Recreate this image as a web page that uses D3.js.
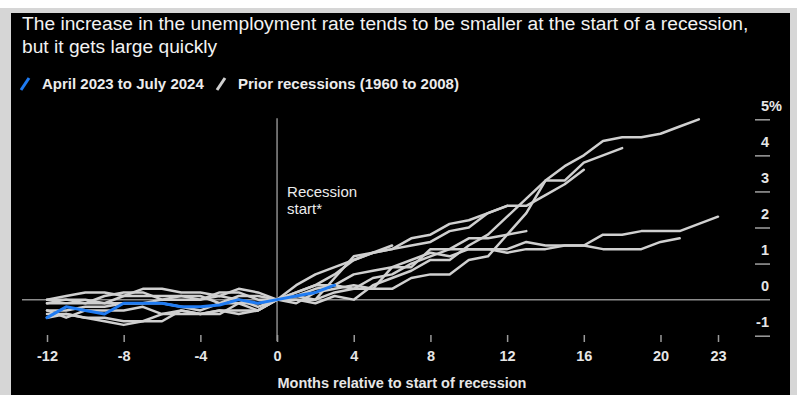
<!DOCTYPE html>
<html>
<head>
<meta charset="utf-8">
<script src="https://cdn.jsdelivr.net/npm/d3@7"></script>
<style>
  body { margin: 0; background: #ffffff; }
  svg { display: block; font-family: 'Liberation Sans', Arial, sans-serif; }
</style>
</head>
<body>
<div id="container"></div>
<script>
// months relative to recession start, first value of every series is month -12
var startMonth = -12
var xTicks = [-12, -8, -4, 0, 4, 8, 12, 16, 20, 23]
var yTicks = [-1, 0, 1, 2, 3, 4, 5]

// change in unemployment rate (pp) vs. the start month
var current = [-0.5, -0.2, -0.3, -0.4, -0.1, -0.1, -0.1, -0.2, -0.2, -0.15, 0, -0.1, 0, 0.1, 0.2, 0.4]

var r1960 = [0.0, 0.1, 0.2, 0.2, 0.1, 0.3, 0.3, 0.2, 0.2, 0.1, 0.3, 0.2,
             0, -0.1, 0.2, 0.3, 0.4, 0.3, 0.9, 0.9, 1.4, 1.4, 1.7, 1.7, 1.8, 1.9]
var r1969 = [-0.1, -0.1, -0.1, -0.1, -0.1, -0.1, 0, 0, 0, 0.2, 0.2, 0,
             0, 0.4, 0.7, 0.9, 1.1, 1.3, 1.4, 1.5, 1.6, 1.9, 2.0, 2.4, 2.6]
var r1973 = [-0.1, 0.0, 0.0, -0.1, 0.1, 0.1, 0.1, 0.1, 0.0, 0.1, 0.0, -0.2,
             0, 0.1, 0.3, 0.4, 0.3, 0.3, 0.3, 0.6, 0.7, 0.7, 1.1, 1.2, 1.8, 2.4, 3.3, 3.3, 3.8, 4.0, 4.2]
var r1980 = [-0.4, -0.4, -0.5, -0.5, -0.6, -0.6, -0.6, -0.3, -0.4, -0.3, -0.4, -0.3,
             0, 0, 0, 0.6, 1.2, 1.3, 1.5]
var r1981 = [0.0, 0.0, -0.1, 0.1, 0.2, 0.2, 0.0, 0.1, 0.1, -0.1, 0.1, 0.1,
             0, 0.2, 0.4, 0.7, 1.1, 1.3, 1.4, 1.7, 1.8, 2.1, 2.2, 2.4, 2.6, 2.6, 2.9, 3.2, 3.6]
var r1990 = [-0.3, -0.3, -0.2, -0.2, -0.1, -0.1, -0.1, -0.2, -0.3, -0.1, -0.1, -0.3,
             0, 0.2, 0.4, 0.4, 0.7, 0.8, 0.9, 1.1, 1.3, 1.2, 1.4, 1.4, 1.3, 1.4, 1.4, 1.5, 1.5, 1.8, 1.8, 1.9, 1.9, 1.9, 2.1, 2.3]
var r2001 = [-0.3, -0.5, -0.3, -0.3, -0.3, -0.2, -0.4, -0.4, -0.4, -0.4, -0.1, -0.1,
             0, 0.1, 0, 0.2, 0.3, 0.6, 0.7, 1.0, 1.2, 1.4, 1.4, 1.4, 1.4, 1.6, 1.5, 1.5, 1.5, 1.4, 1.4, 1.4, 1.6, 1.7]
var r2008 = [-0.5, -0.4, -0.5, -0.6, -0.7, -0.6, -0.4, -0.3, -0.4, -0.3, -0.3, -0.3,
             0, 0, -0.1, 0.1, 0, 0.4, 0.6, 0.8, 1.1, 1.1, 1.5, 1.8, 2.3, 2.8, 3.3, 3.7, 4.0, 4.4, 4.5, 4.5, 4.6, 4.8, 5.0]

var priorRecessions = [r1960, r1969, r1973, r1980, r1981, r1990, r2001, r2008]

var titleLines = [
    'The increase in the unemployment rate tends to be smaller at the start of a recession,',
    'but it gets large quickly'
]
var legendLabels = ['April 2023 to July 2024', 'Prior recessions (1960 to 2008)']

var width = 797
var height = 395
var blue = '#1f7bf2'
var grey = '#d0d0d0'

var svgContainer = d3.select('#container').append('svg')
    .attr('width', width)
    .attr('height', height)

// frame
svgContainer.append('rect').attr('x', 0).attr('y', 8).attr('width', width).attr('height', height - 8).attr('fill', '#d6d6d6')
svgContainer.append('rect').attr('x', 11).attr('y', 13).attr('width', 779).attr('height', height - 13).attr('fill', '#000000')

var x = d3.scaleLinear().domain([-12, 23]).range([47, 718])
var y = d3.scaleLinear().domain([-1, 5]).range([335.7, 119.3])

function toPoints(values){
    var pts = []
    for(var i = 0; i < values.length; i++){
        pts.push([startMonth + i, values[i]])
    }
    return pts
}

var line = d3.line()
    .x(function(d){ return x(d[0]) })
    .y(function(d){ return y(d[1]) })

// title
svgContainer.selectAll('text.title')
    .data(titleLines)
    .enter()
    .append('text')
    .attr('class', 'title')
    .attr('x', 22)
    .attr('y', function(d, i){ return 30 + i * 23 })
    .attr('font-size', 19.2)
    .attr('fill', '#f2f2f2')
    .text(function(d){ return d })

// legend
function drawLegendItem(lx, color, label){
    svgContainer.append('line')
        .attr('x1', lx).attr('y1', 90)
        .attr('x2', lx + 8).attr('y2', 78)
        .attr('stroke', color)
        .attr('stroke-width', 3)
    svgContainer.append('text')
        .attr('x', lx + 21)
        .attr('y', 89)
        .attr('font-size', 15)
        .attr('font-weight', 'bold')
        .attr('fill', '#ececec')
        .text(label)
}
drawLegendItem(21, blue, legendLabels[0])
drawLegendItem(217, grey, legendLabels[1])

// y axis on the right: short dashes with labels above
var yAxis = d3.axisRight(y)
    .tickValues(yTicks)
    .tickSize(0)
    .tickFormat(function(d){ return d })

var yAxisG = svgContainer.append('g')
    .attr('transform', 'translate(769,0)')
    .call(yAxis)
yAxisG.select('.domain').remove()
yAxisG.selectAll('.tick text')
    .attr('x', 0)
    .attr('dy', -9)
    .attr('text-anchor', 'end')
    .attr('font-family', "'Liberation Sans', Arial, sans-serif")
    .attr('font-size', 14.5)
    .attr('font-weight', 'bold')
    .attr('fill', '#e6e6e6')
yAxisG.selectAll('.tick')
    .filter(function(d){ return d !== 0 })
    .append('line')
    .attr('x1', -14)
    .attr('x2', 1)
    .attr('stroke', '#a0a0a0')
    .attr('stroke-width', 1.5)

// top label carries the unit; keep the number aligned with the others
yAxisG.selectAll('.tick').filter(function(d){ return d === 5 }).select('text')
    .attr('text-anchor', 'start')
    .attr('x', -8)
    .text('5%')

// zero line
svgContainer.append('line')
    .attr('x1', 22).attr('x2', 770)
    .attr('y1', y(0)).attr('y2', y(0))
    .attr('stroke', '#8c8c8c')
    .attr('stroke-width', 1.5)

// recession start line
svgContainer.append('line')
    .attr('x1', x(0)).attr('x2', x(0))
    .attr('y1', y(5) - 1).attr('y2', 341)
    .attr('stroke', '#8c8c8c')
    .attr('stroke-width', 1.5)

svgContainer.append('text')
    .attr('x', x(0) + 10)
    .attr('y', 197)
    .attr('font-size', 15)
    .attr('fill', '#ececec')
    .text('Recession')
svgContainer.append('text')
    .attr('x', x(0) + 10)
    .attr('y', 214)
    .attr('font-size', 15)
    .attr('fill', '#ececec')
    .text('start*')

// x axis
var xAxis = d3.axisBottom(x)
    .tickValues(xTicks)
    .tickSize(7)
    .tickFormat(function(d){ return d })

var xAxisG = svgContainer.append('g')
    .attr('transform', 'translate(0,335)')
    .call(xAxis)
xAxisG.select('.domain').remove()
xAxisG.selectAll('.tick line')
    .attr('stroke', '#9a9a9a')
    .attr('stroke-width', 1.5)
xAxisG.selectAll('.tick text')
    .attr('y', 16)
    .attr('font-family', "'Liberation Sans', Arial, sans-serif")
    .attr('font-size', 14.5)
    .attr('font-weight', 'bold')
    .attr('fill', '#e6e6e6')

svgContainer.append('text')
    .attr('x', 402)
    .attr('y', 388)
    .attr('text-anchor', 'middle')
    .attr('font-size', 14.5)
    .attr('font-weight', 'bold')
    .attr('fill', '#e6e6e6')
    .text('Months relative to start of recession')

// prior recessions
svgContainer.selectAll('path.prior')
    .data(priorRecessions)
    .enter()
    .append('path')
    .attr('class', 'prior')
    .attr('d', function(d){ return line(toPoints(d)) })
    .attr('fill', 'none')
    .attr('stroke', grey)
    .attr('stroke-width', 2.5)
    .attr('stroke-linejoin', 'round')
    .attr('stroke-linecap', 'round')

// current cycle
svgContainer.append('path')
    .attr('d', line(toPoints(current)))
    .attr('fill', 'none')
    .attr('stroke', blue)
    .attr('stroke-width', 3)
    .attr('stroke-linejoin', 'round')
    .attr('stroke-linecap', 'round')
</script>
</body>
</html>
